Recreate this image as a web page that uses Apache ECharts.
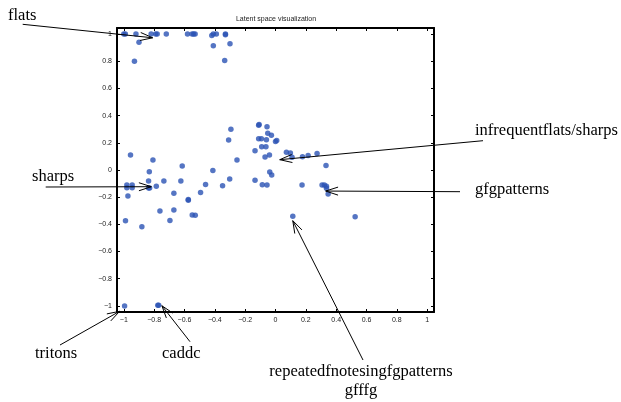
<!DOCTYPE html>
<html><head><meta charset="utf-8">
<script src="https://cdn.jsdelivr.net/npm/echarts@6/dist/echarts.min.js"></script>
<style>html,body{margin:0;padding:0;background:#fff}#c{width:621px;height:402px}</style>
</head><body><div id="c"></div>
<script>
const chartTitle = 'Latent space visualization';
const tickValues = [-1, -0.8, -0.6, -0.4, -0.2, 0, 0.2, 0.4, 0.6, 0.8, 1];

// latent points (x, y)
const pointX = [
  -1.00, -0.99, -0.92, -0.82, -0.79, -0.78, -0.72, -0.58, -0.55, -0.54, -0.53, -0.42, -0.41, -0.39, -0.33, -0.33,
  -0.90, -0.93, -0.41, -0.335, -0.30,
  -0.956, -0.989, -0.881, -0.98, -0.98, -0.945, -0.945, -0.973, -0.808, -0.832, -0.837, -0.837, -0.83, -0.786,
  -0.736, -0.762, -0.67, -0.67, -0.696, -0.624, -0.615, -0.575, -0.575, -0.549, -0.529, -0.494, -0.461, -0.413,
  -0.349, -0.309, -0.294, -0.302, -0.254,
  -0.135, -0.135, -0.111, -0.108, -0.111, -0.093, -0.091, -0.087, -0.063, -0.056, -0.06, -0.051, -0.069, -0.056,
  -0.04, -0.027, -0.038, -0.025, 0.0, 0.008,
  0.072, 0.098, 0.109, 0.178, 0.215, 0.274, 0.333, 0.175, 0.307, 0.322, 0.336, 0.336, 0.347, 0.114, 0.525,
  -0.995, -0.776, -0.77
];
const pointY = [
  1.00, 1.00, 1.00, 1.00, 1.00, 1.00, 1.00, 1.00, 1.00, 1.00, 1.00, 0.99, 1.00, 1.00, 1.00, 0.995,
  0.94, 0.80, 0.915, 0.805, 0.93,
  0.11, -0.373, -0.417, -0.11, -0.13, -0.11, -0.13, -0.191, 0.074, -0.013, -0.081, -0.133, -0.133, -0.12,
  -0.081, -0.302, -0.172, -0.294, -0.371, -0.081, 0.029, -0.217, -0.222, -0.331, -0.333, -0.165, -0.106, -0.003,
  -0.115, 0.221, 0.299, -0.066, 0.074,
  0.142, -0.076, 0.33, 0.334, 0.23, 0.23, 0.171, -0.108, 0.171, 0.319, 0.223, 0.27, 0.096, -0.11,
  0.11, 0.255, -0.015, -0.037, 0.21, 0.218,
  0.13, 0.125, 0.093, 0.098, 0.107, 0.122, 0.034, -0.11, -0.11, -0.11, -0.12, -0.135, -0.177, -0.341, -0.344,
  -1.0, -0.996, -0.996
];

// annotations: label text and the data point each arrow points at
const annotationLabels = ['flats', 'infrequentflats/sharps', 'gfgpatterns', 'sharps', 'tritons', 'caddc', 'repeatedfnotesingfgpatterns\ngfffg'];
const annotationTargetX = [-0.81, 0.028, 0.331, -0.819, -1.028, -0.749, 0.114];
const annotationTargetY = [0.973, 0.076, -0.155, -0.123, -1.04, -0.999, -0.373];

// annotation layout (pixels): arrow tail and text anchor
const annotationLayout = [
  { tail: [22.7, 24.3], text: [8, 16], align: 'left' },
  { tail: [483, 140.7], text: [475, 130.5], align: 'left' },
  { tail: [460, 191.7], text: [475, 189.5], align: 'left' },
  { tail: [45.7, 187], text: [32, 176.5], align: 'left' },
  { tail: [60, 345], text: [35, 354], align: 'left' },
  { tail: [190, 341.7], text: [162, 353.5], align: 'left' },
  { tail: [363, 360], text: [361, 381.5], align: 'center' }
];

const fmt = v => String(v).replace('-', '\u2212');
const AX_MIN = -1.045, AX_MAX = 1.045;
const lineStyle = { color: '#000', width: 2 };
const tickStyle = { color: '#000', width: 1 };
const labelStyle = { fontSize: 7, color: '#222', fontFamily: 'Liberation Sans', margin: 5 };

function makeAxis(position, showLabel) {
  return {
    type: 'value', position: position, min: AX_MIN, max: AX_MAX,
    axisLine: { show: true, onZero: false, lineStyle: lineStyle },
    axisTick: { show: true, inside: true, length: 3, customValues: tickValues, lineStyle: tickStyle },
    axisLabel: showLabel ? Object.assign({ customValues: tickValues, formatter: fmt }, labelStyle) : { show: false },
    splitLine: { show: false }
  };
}

const chart = echarts.init(document.getElementById('c'), null, { renderer: 'canvas' });
chart.setOption({
  animation: false,
  backgroundColor: '#fff',
  grid: { left: 117, right: 187, top: 28, bottom: 90, containLabel: false },
  xAxis: [makeAxis('bottom', true), makeAxis('top', false)],
  yAxis: [makeAxis('left', true), makeAxis('right', false)],
  series: [{
    type: 'scatter', xAxisIndex: 0, yAxisIndex: 0,
    data: pointX.map((x, i) => [x, pointY[i]]),
    symbol: 'circle', symbolSize: 5.5,
    itemStyle: { color: '#2b52b4' }
  }]
});

const gfx = [{
  type: 'text', x: 276, y: 19.5, z: 100,
  style: { text: chartTitle, fontSize: 7, fontFamily: 'Liberation Sans', fill: '#222', align: 'center', textAlign: 'center', verticalAlign: 'middle', textVerticalAlign: 'middle' }
}];
annotationLabels.forEach((label, i) => {
  const tip = chart.convertToPixel({ gridIndex: 0 }, [annotationTargetX[i], annotationTargetY[i]]);
  const L = annotationLayout[i];
  const tail = L.tail;
  gfx.push({ type: 'line', z: 100, silent: true, shape: { x1: tail[0], y1: tail[1], x2: tip[0], y2: tip[1] }, style: { stroke: '#000', lineWidth: 1 } });
  const ang = Math.atan2(tail[1] - tip[1], tail[0] - tip[0]);
  const hl = 13, ha = 18 * Math.PI / 180;
  gfx.push({ type: 'polyline', z: 100, silent: true,
    shape: { points: [[tip[0] + hl * Math.cos(ang + ha), tip[1] + hl * Math.sin(ang + ha)], [tip[0], tip[1]], [tip[0] + hl * Math.cos(ang - ha), tip[1] + hl * Math.sin(ang - ha)]] },
    style: { stroke: '#000', fill: null, lineWidth: 1 } });
  gfx.push({ type: 'text', z: 100, x: L.text[0], y: L.text[1],
    style: { text: label, fontSize: 16.5, fontFamily: '"Liberation Serif", "Times New Roman", serif', fill: '#000',
      align: L.align, textAlign: L.align, verticalAlign: 'middle', textVerticalAlign: 'middle', lineHeight: 19 } });
});
chart.setOption({ graphic: gfx });
</script>
</body></html>
